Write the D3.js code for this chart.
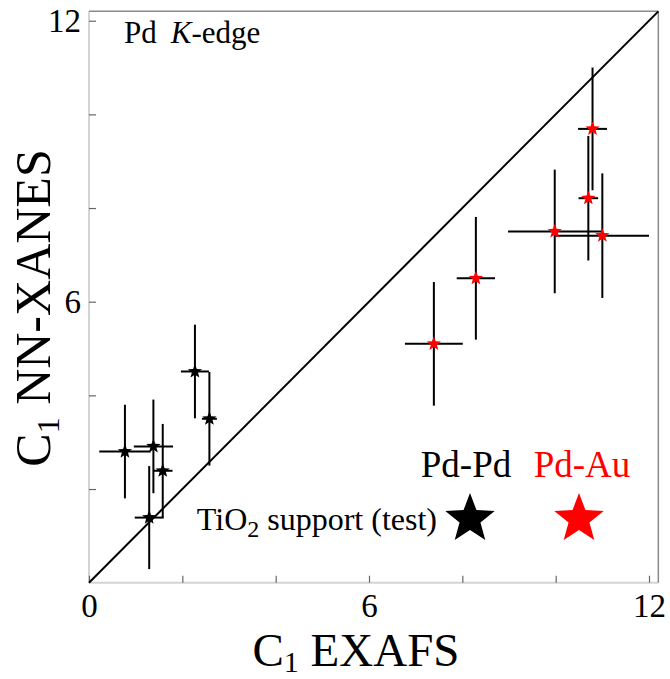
<!DOCTYPE html>
<html>
<head>
<meta charset="utf-8">
<script src="https://cdn.jsdelivr.net/npm/d3@7"></script>
<style>
  body { margin: 0; background: #fff; }
  svg text { font-family: "Liberation Serif", Tinos, "Times New Roman", Times, "Nimbus Roman", "DejaVu Serif", serif; }
</style>
</head>
<body>
<svg id="chart"></svg>
<script>
// Pd-Pd (black) points, C1 EXAFS vs C1 NN-XANES
const pdPdX    = [0.77, 1.38, 1.58, 1.29, 2.27, 2.58];
const pdPdY    = [2.80, 2.91, 2.39, 1.39, 4.51, 3.50];
const pdPdXErr = [0.55, 0.42, 0.21, 0.31, 0.30, 0.16];
const pdPdYErr = [1.00, 1.00, 1.00, 1.10, 1.00, 1.00];

// Pd-Au (red) points
const pdAuX    = [7.39, 8.29, 10.79, 10.70, 9.98, 11.00];
const pdAuY    = [5.10, 6.50, 9.69, 8.21, 7.50, 7.41];
const pdAuXErr = [0.62, 0.41, 0.31, 0.21, 1.00, 1.00];
const pdAuYErr = [1.32, 1.31, 1.31, 1.33, 1.32, 1.33];

const xTicks = [0, 2, 4, 6, 8, 10, 12];
const yTicks = [2, 4, 6, 8, 10, 12];
const labelled = [0, 6, 12];
const axisMax = 12.2;

const width = 670, height = 679;
const serif = '"Liberation Serif", Tinos, "Times New Roman", Times, "Nimbus Roman", "DejaVu Serif", serif';

const svg = d3.select('#chart')
    .attr('width', width)
    .attr('height', height);

const x = d3.scaleLinear().domain([0, 12]).range([89, 649]);
const y = d3.scaleLinear().domain([0, 12]).range([582.7, 20.7]);

// frame: left / bottom light, top / right darker
svg.append('line')
    .attr('x1', x(0)).attr('y1', y(0)).attr('x2', x(axisMax)).attr('y2', y(0))
    .attr('stroke', '#d4d4d4').attr('stroke-width', 2);
svg.append('line')
    .attr('x1', x(0)).attr('y1', y(0)).attr('x2', x(0)).attr('y2', y(axisMax))
    .attr('stroke', '#d4d4d4').attr('stroke-width', 2);
svg.append('line')
    .attr('x1', x(0)).attr('y1', y(axisMax)).attr('x2', x(axisMax)).attr('y2', y(axisMax))
    .attr('stroke', '#8a8a8a').attr('stroke-width', 1.5);
svg.append('line')
    .attr('x1', x(axisMax)).attr('y1', y(0)).attr('x2', x(axisMax)).attr('y2', y(axisMax))
    .attr('stroke', '#8a8a8a').attr('stroke-width', 1.5);

const fmt = d => labelled.includes(d) ? d : '';

const xAxis = d3.axisBottom(x)
    .tickValues(xTicks)
    .tickSize(-7)
    .tickPadding(11)
    .tickFormat(fmt);

const yAxis = d3.axisLeft(y)
    .tickValues(yTicks)
    .tickSize(-7)
    .tickPadding(8)
    .tickFormat(fmt);

const xAxisG = svg.append('g')
    .attr('transform', `translate(0,${y(0)})`)
    .call(xAxis)
    .call(g => g.select('.domain').remove());

const yAxisG = svg.append('g')
    .attr('transform', `translate(${x(0)},0)`)
    .call(yAxis)
    .call(g => g.select('.domain').remove());

[xAxisG, yAxisG].forEach(g => {
  g.attr('font-family', serif);
  g.selectAll('.tick line').attr('stroke', '#666').attr('stroke-width', 1.2);
  g.selectAll('.tick text')
      .attr('fill', '#000')
      .style('font-family', serif)
      .style('font-size', '33px');
});

// diagonal y = x
svg.append('line')
    .attr('x1', x(0)).attr('y1', y(0))
    .attr('x2', x(axisMax)).attr('y2', y(axisMax))
    .attr('stroke', '#000').attr('stroke-width', 2);

// star path centred at 0,0
function starPath(R, r) {
  const pts = [];
  for (let i = 0; i < 10; i++) {
    const a = -Math.PI / 2 + i * Math.PI / 5;
    const rad = i % 2 === 0 ? R : r;
    pts.push([rad * Math.cos(a), rad * Math.sin(a)]);
  }
  return 'M' + pts.map(p => p.join(',')).join('L') + 'Z';
}

function drawSeries(xs, ys, xe, ye, color) {
  const data = xs.map((d, i) => ({x: d, y: ys[i], xe: xe[i], ye: ye[i]}));
  const g = svg.append('g');

  g.selectAll('.hbar')
      .data(data)
      .join('line')
      .attr('x1', d => x(d.x - d.xe)).attr('x2', d => x(d.x + d.xe))
      .attr('y1', d => y(d.y)).attr('y2', d => y(d.y))
      .attr('stroke', '#000').attr('stroke-width', 2);

  g.selectAll('.vbar')
      .data(data)
      .join('line')
      .attr('x1', d => x(d.x)).attr('x2', d => x(d.x))
      .attr('y1', d => y(d.y - d.ye)).attr('y2', d => y(d.y + d.ye))
      .attr('stroke', '#000').attr('stroke-width', 2);

  g.selectAll('.star')
      .data(data)
      .join('path')
      .attr('d', starPath(7.5, 3.2))
      .attr('transform', d => `translate(${x(d.x)},${y(d.y)})`)
      .attr('fill', color);
}

drawSeries(pdPdX, pdPdY, pdPdXErr, pdPdYErr, '#000');
drawSeries(pdAuX, pdAuY, pdAuXErr, pdAuYErr, '#ff0000');

// panel label
const lab = svg.append('text')
    .attr('x', 124).attr('y', 43)
    .style('font-size', '31px');
lab.append('tspan').text('Pd');
lab.append('tspan').attr('dx', 14).style('font-style', 'italic').text('K');
lab.append('tspan').text('-edge');

// legend
svg.append('text')
    .attr('x', 466).attr('y', 477)
    .attr('text-anchor', 'middle')
    .style('font-size', '37px')
    .text('Pd-Pd');
svg.append('text')
    .attr('x', 582).attr('y', 477)
    .attr('text-anchor', 'middle')
    .attr('fill', '#ff0000')
    .style('font-size', '37px')
    .text('Pd-Au');

svg.append('path')
    .attr('d', starPath(26, 11))
    .attr('transform', 'translate(470,519)')
    .attr('fill', '#000');
svg.append('path')
    .attr('d', starPath(26, 11))
    .attr('transform', 'translate(579,519)')
    .attr('fill', '#ff0000');

const sup = svg.append('text')
    .attr('x', 437).attr('y', 530)
    .attr('text-anchor', 'end')
    .style('font-size', '32px');
sup.append('tspan').text('TiO');
sup.append('tspan').attr('dy', 7).style('font-size', '24px').text('2');
sup.append('tspan').attr('dy', -7).text(' support (test)');

// axis titles
const xt = svg.append('text')
    .attr('x', 356).attr('y', 666)
    .attr('text-anchor', 'middle')
    .style('font-size', '47px');
xt.append('tspan').text('C');
xt.append('tspan').attr('dy', 6).style('font-size', '30px').text('1');
xt.append('tspan').attr('dy', -6).text(' EXAFS');

const yt = svg.append('text')
    .attr('transform', 'translate(50,308) rotate(-90)')
    .attr('text-anchor', 'middle')
    .style('font-size', '50px');
yt.append('tspan').text('C');
yt.append('tspan').attr('dy', 9).style('font-size', '32px').text('1');
yt.append('tspan').attr('dy', -9).text(' NN-XANES');
</script>
</body>
</html>
